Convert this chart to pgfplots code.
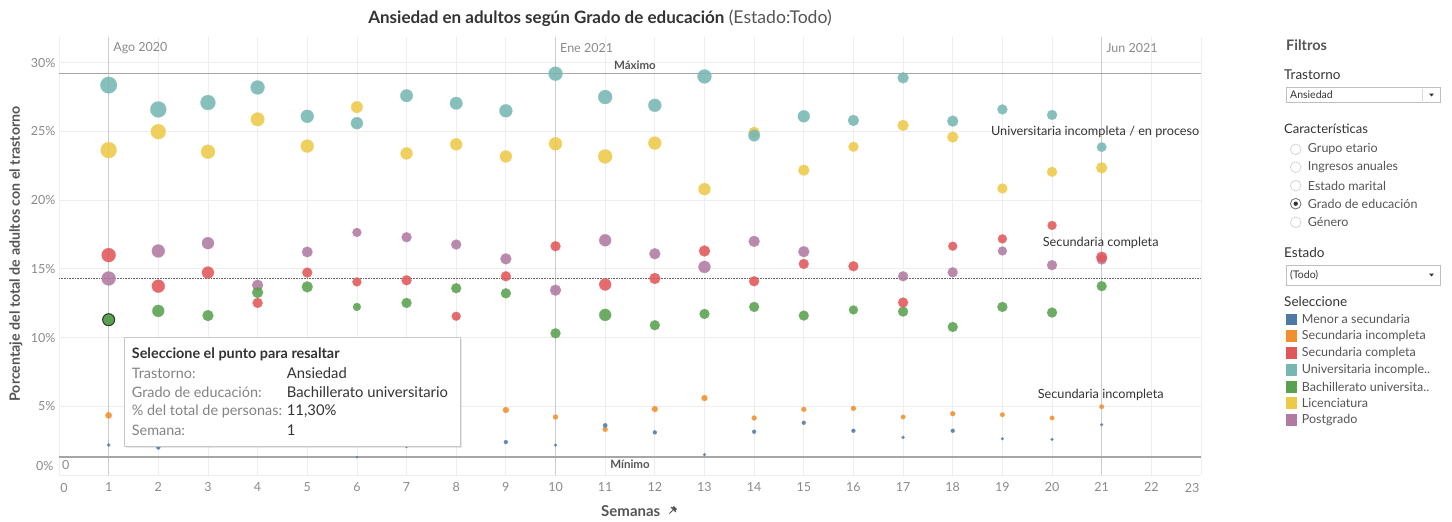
\documentclass[border=0pt]{standalone}
\usepackage{pgfplots}
\usepackage{pgfplotstable}
\pgfplotsset{compat=1.18}
\usetikzlibrary{shadows}
\usepackage{fontspec}
\setmainfont{Lato}
\definecolor{cblue}{HTML}{4E79A7}
\definecolor{corange}{HTML}{F28E2B}
\definecolor{cred}{HTML}{E15759}
\definecolor{cteal}{HTML}{76B7B2}
\definecolor{cgreen}{HTML}{59A14F}
\definecolor{cyellow}{HTML}{EDC948}
\definecolor{cpurple}{HTML}{B07AA1}
\definecolor{tickgray}{HTML}{8A8A8A}
\definecolor{txt}{HTML}{333333}
\definecolor{txtb}{HTML}{555555}
\definecolor{gridc}{HTML}{EEEEEE}
\definecolor{refc}{HTML}{A6A6A6}
\definecolor{vlc}{HTML}{CCCCCC}

\pgfplotstableread{
x y r
1 28.37 8.3
2 26.6 8
3 27.1 7.5
4 28.2 7
5 26.1 6.5
6 25.6 6
7 27.6 6.3
8 27.05 6.3
9 26.5 6.5
10 29.2 7
11 27.5 7
12 26.9 6.5
13 29.0 7
14 24.7 5.8
15 26.1 6
16 25.8 5.5
17 28.9 5.5
18 25.75 5.5
19 26.6 5
20 26.2 5
21 23.86 4.8
}\tUni

\pgfplotstableread{
x y r
1 23.64 8
2 24.98 7.5
3 23.52 7
4 25.88 6.8
5 23.93 6.5
6 26.77 5.8
7 23.4 6
8 24.06 6
9 23.18 6
10 24.1 6.5
11 23.18 7
12 24.15 6.5
13 20.8 6
14 24.93 5.5
15 22.18 5.5
16 23.88 5
17 25.44 5.5
18 24.59 5.5
19 20.85 5
20 22.06 5
21 22.35 5.5
}\tLic

\pgfplotstableread{
x y r
1 14.3 7
2 16.3 6.5
3 16.87 6
4 13.81 5.5
5 16.23 5.3
6 17.65 4.5
7 17.3 5
8 16.77 5
9 15.73 5.5
10 13.45 5.5
11 17.08 6
12 16.1 5.5
13 15.14 6
14 17.0 5.5
15 16.25 5.5
17 14.46 5
18 14.75 5
19 16.3 4.5
20 15.27 5
21 15.68 5
}\tPos

\pgfplotstableread{
x y r
1 16.0 7
2 13.74 6.5
3 14.73 6
4 12.52 5
5 14.73 5
6 14.05 4.5
7 14.17 5
8 11.55 4.5
9 14.46 5
10 16.65 5
11 13.86 6
12 14.3 5.5
13 16.3 5.5
14 14.1 5
15 15.36 5
16 15.19 5
17 12.55 5
18 16.65 4.5
19 17.18 4.5
20 18.16 4.5
21 15.85 5.5
}\tSecC

\pgfplotstableread{
x y r
1 11.3 6
2 11.94 6
3 11.6 5.5
4 13.28 5.5
5 13.69 5.5
6 12.23 4
7 12.52 5
8 13.59 5
9 13.22 5
10 10.31 5
11 11.65 6
12 10.9 5
13 11.72 5
14 12.23 5
15 11.6 5
16 12.01 4.5
17 11.89 5
18 10.77 5
19 12.23 5
20 11.82 5
21 13.74 5
}\tBach

\pgfplotstableread{
x y r
1 4.34 3.2
9 4.73 3
10 4.22 2.5
11 3.32 2.5
12 4.8 3
13 5.6 3
14 4.15 2.5
15 4.78 2.5
16 4.85 2.5
17 4.22 2.3
18 4.46 2.5
19 4.39 2.3
20 4.15 2.3
21 4.97 2.3
}\tSecI

\pgfplotstableread{
x y r
1 2.18 1.8
2 2.0 2
6 1.3 1.2
7 2.05 1.3
9 2.4 2
10 2.18 1.5
11 3.61 2.2
12 3.1 2
13 1.48 1.5
14 3.15 2
15 3.8 2
16 3.22 2
17 2.74 1.6
18 3.22 2
19 2.64 1.5
20 2.59 1.5
21 3.66 1.5
}\tMen

\pgfplotsset{
  bub/.style={scatter, only marks, mark=*,
    scatter/use mapped color={draw=#1!85!white, fill=#1, line width=0.4pt, fill opacity=0.88, draw opacity=0.6},
    visualization depends on={\thisrow{r} \as \rad},
    scatter/@pre marker code/.append style={/tikz/mark size=\rad pt}},
}

\newcommand{\fs}[1]{\fontsize{#1}{#1}\selectfont}

\begin{document}
\begin{tikzpicture}
\path[use as bounding box] (0pt,0pt) rectangle (1452pt,-522pt);

% title
\node[anchor=center, text=txt] at (600pt,-18pt) {\fs{17}\textbf{Ansiedad en adultos según Grado de educación} {\fs{17.6}\textcolor{txtb}{(Estado:Todo)}}};

\begin{axis}[
  at={(59pt,-475pt)}, anchor=south west,
  scale only axis, width=1142pt, height=438pt,
  xmin=0, xmax=23, ymin=0, ymax=31.87,
  xtick={0,...,23}, ytick={0,5,10,15,20,25,30},
  xticklabels={{},1,2,3,4,5,6,7,8,9,10,11,12,13,14,15,16,17,18,19,20,21,22,{}},
  yticklabels={,5\%,10\%,15\%,20\%,25\%,30\%},
  grid=major, major grid style={gridc, line width=0.8pt},
  axis line style={draw=none}, tick style={draw=none},
  ticklabel style={font=\fs{12.5}, text=tickgray},
  /pgf/number format/assume math mode=true,
  xticklabel style={yshift=-4pt},
  clip=false,
]
% vertical date lines
\addplot[vlc, line width=1pt] coordinates {(1,0) (1,31.87)};
\addplot[vlc, line width=1pt] coordinates {(10,0) (10,31.87)};
\addplot[vlc, line width=1pt] coordinates {(21,0) (21,31.87)};
% reference lines
\addplot[refc, line width=1.3pt] coordinates {(0,29.23) (23,29.23)};
\addplot[refc, line width=1.3pt] coordinates {(0,1.3) (23,1.3)};
\addplot[gray!80!black, densely dotted, line width=0.6pt] coordinates {(0,14.3) (23,14.3)};

\addplot[bub=cpurple] table[x=x,y=y] {\tPos};
\addplot[bub=cyellow] table[x=x,y=y] {\tLic};
\addplot[bub=cgreen] table[x=x,y=y] {\tBach};
\addplot[bub=cteal] table[x=x,y=y] {\tUni};
\addplot[bub=cred] table[x=x,y=y] {\tSecC};
\addplot[bub=corange] table[x=x,y=y] {\tSecI};
\addplot[bub=cblue] table[x=x,y=y] {\tMen};
% highlighted point
\addplot[only marks, mark=*, mark size=6pt, mark options={draw=black!80, fill=cgreen, line width=1pt}] coordinates {(1,11.3)};

% annotations
\node[anchor=west, text=tickgray, font=\fs{12.5}, inner sep=0pt] at (axis cs:1.09,31.05) {Ago 2020};
\node[anchor=west, text=tickgray, font=\fs{12.5}, inner sep=0pt] at (axis cs:10.09,31.05) {Ene 2021};
\node[anchor=west, text=tickgray, font=\fs{12.5}, inner sep=0pt] at (axis cs:21.09,31.05) {Jun 2021};
\node[anchor=south, text=txtb, font=\fs{11.5}\bfseries, inner sep=3pt] at (axis cs:11.6,29.23) {Máximo};
\node[anchor=north, text=txtb, font=\fs{11.5}\bfseries, inner sep=3pt] at (axis cs:11.5,1.3) {Mínimo};
\node[anchor=north west, text=tickgray, font=\fs{12.5}, inner sep=3pt] at (axis cs:0,1.3) {0};
\node[anchor=east, text=txt, font=\fs{12.7}, inner sep=0pt] at (axis cs:22.97,25.0) {Universitaria incompleta / en proceso};
\node[anchor=center, text=txt, font=\fs{12.7}, inner sep=0pt] at (axis cs:20.98,16.89) {Secundaria completa};
\node[anchor=center, text=txt, font=\fs{12.7}, inner sep=0pt] at (axis cs:20.98,5.85) {Secundaria incompleta};
\end{axis}

% edge labels
\node[anchor=east, text=tickgray, font=\fs{12.5}] at (57pt,-466pt) {0\%};
\node[text=tickgray, font=\fs{12.5}] at (64pt,-488pt) {0};
\node[text=tickgray, font=\fs{12.5}] at (1192pt,-488pt) {23};

% axis titles
\node[rotate=90, text=txtb, font=\fs{14.2}\bfseries] at (16pt,-254pt) {Porcentaje del total de adultos con el trastorno};
\node[text=txtb, font=\fs{15}\bfseries, anchor=west, inner sep=0pt] at (601pt,-511pt) {Semanas};
\begin{scope}[shift={(673pt,-510pt)}, rotate=-45, x=1pt, y=1pt]
\fill[txtb] (-2.2,1) rectangle (2.2,3.5);
\fill[txtb] (-3.5,0) rectangle (3.5,1.2);
\draw[txtb, line width=0.9pt] (0,0) -- (0,-5);
\end{scope}

\begin{scope}[x=1pt, y=1pt]
% tooltip
\filldraw[fill=white, draw=black!22, line width=0.8pt, drop shadow={opacity=0.18, shadow xshift=1.5pt, shadow yshift=-1.5pt}] (124.3,-337.7) rectangle (460.7,-446);
\node[anchor=west, inner sep=0pt, text=txt, font=\fs{14.4}\bfseries] at (131.7,-354) {Seleccione el punto para resaltar};
\foreach \yy/\lab/\val in {373/Trastorno:/Ansiedad, 392.5/Grado de educación:/Bachillerato universitario, 411.5/\% del total de personas:/{11,30\%}, 430.5/Semana:/1}{
  \node[anchor=west, inner sep=0pt, text=tickgray!95!black, font=\fs{14.4}] at (131.7,-\yy) {\lab};
  \node[anchor=west, inner sep=0pt, text=txt, font=\fs{14.8}] at (286.7,-\yy) {\val};
}

% right panel
\node[anchor=west, inner sep=0pt, text=txtb, font=\fs{14.5}\bfseries] at (1286,-45) {Filtros};
\node[anchor=west, inner sep=0pt, text=txt, font=\fs{13.5}] at (1284,-75) {Trastorno};
\draw[black!25, line width=0.6pt] (1286,-87.3) rectangle (1440.7,-102);
\draw[black!15, line width=0.6pt] (1422.7,-88.5) -- (1422.7,-101);
\fill[black!80] (1429,-93.5) -- (1434,-93.5) -- (1431.5,-96.5) -- cycle;
\node[anchor=west, inner sep=0pt, text=txt, font=\fs{10.5}] at (1290,-95) {Ansiedad};

\node[anchor=west, inner sep=0pt, text=txt, font=\fs{13}] at (1284,-128.3) {Características};
\foreach \yy/\lab in {149.3/Grupo etario, 167.2/Ingresos anuales, 185.7/Estado marital, 203.7/Grado de educación, 222.3/Género}{
  \draw[black!18, line width=0.7pt] (1295.7,-\yy) circle (5.3);
  \node[anchor=west, inner sep=0pt, text=txtb, font=\fs{12.5}] at (1307.7,-\yy) {\lab};
}
\draw[black!55, line width=0.7pt] (1295.7,-203.7) circle (5.3);
\fill[black!80] (1295.7,-203.7) circle (2.2);

\node[anchor=west, inner sep=0pt, text=txt, font=\fs{13.5}] at (1284,-252.7) {Estado};
\draw[black!25, line width=0.6pt] (1286,-265) rectangle (1440.7,-285);
\fill[black!80] (1429,-273.5) -- (1434,-273.5) -- (1431.5,-276.5) -- cycle;
\node[anchor=west, inner sep=0pt, text=txt, font=\fs{10.5}] at (1290,-275) {(Todo)};

\node[anchor=west, inner sep=0pt, text=txt, font=\fs{13.5}] at (1284,-301.7) {Seleccione};
\foreach \yy/\col/\lab in {319.3/cblue/Menor a secundaria, 335.8/corange/Secundaria incompleta, 352.7/cred/Secundaria completa, 370/cteal/Universitaria incomple.., 386.7/cgreen/Bachillerato universita.., 402.7/cyellow/Licenciatura, 420/cpurple/Postgrado}{
  \fill[\col] (1285.7,-\yy+5.8) rectangle (1297.3,-\yy-5.8);
  \node[anchor=west, inner sep=0pt, text=txtb, font=\fs{12.5}] at (1301.7,-\yy) {\lab};
}
\end{scope}
\end{tikzpicture}
\end{document}
